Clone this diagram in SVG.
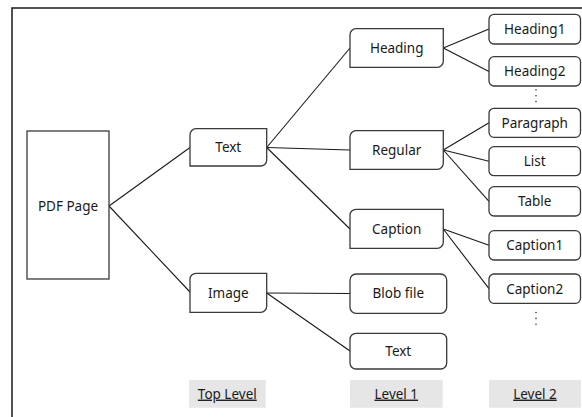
<svg xmlns="http://www.w3.org/2000/svg" width="582" height="417" viewBox="0 0 582 417">
  <style>
    .box { fill: #ffffff; stroke: #3a3a3a; stroke-width: 1.3; }
    .lbl { font-family: "Noto Sans", "Open Sans", sans-serif; font-size: 13.5px; fill: #1a1a1a; text-anchor: middle; }
    .lvl { fill: #e6e6e6; }
    .lvltxt { font-family: "Noto Sans", "Open Sans", sans-serif; font-size: 13.5px; fill: #1a1a1a; text-anchor: middle; text-decoration: underline; }
    .conn line { stroke: #1a1a1a; stroke-width: 1.1; }
    .dot { fill: #3a3a3a; }
  </style>
  <rect x="0" y="0" width="582" height="417" fill="#ffffff"/>
  <!-- outer frame -->
  <rect x="12" y="8" width="600" height="430" fill="none" stroke="#1a1a1a" stroke-width="1.5"/>

  <!-- connectors -->
  <g id="connectors" class="conn">
    <line x1="109" y1="206" x2="190" y2="147.5"/>
    <line x1="109" y1="206" x2="190" y2="292"/>
    <line x1="266.7" y1="147.5" x2="350" y2="48"/>
    <line x1="266.7" y1="147.5" x2="350" y2="150"/>
    <line x1="266.7" y1="147.5" x2="350" y2="229"/>
    <line x1="266.7" y1="293" x2="350" y2="293.5"/>
    <line x1="266.7" y1="293" x2="350" y2="351"/>
    <line x1="443.3" y1="48" x2="489" y2="29"/>
    <line x1="443.3" y1="48" x2="489" y2="71.5"/>
    <line x1="443.3" y1="150" x2="489" y2="122.8"/>
    <line x1="443.3" y1="150" x2="489" y2="161.2"/>
    <line x1="443.3" y1="150" x2="489" y2="201.3"/>
    <line x1="443.3" y1="229" x2="489" y2="245.3"/>
    <line x1="443.3" y1="229" x2="489" y2="288.7"/>
  </g>

  <!-- top level -->
  <g id="pdf-page">
    <rect class="box" x="27" y="131" width="82" height="148"/>
    <text class="lbl" x="68" y="210.8">PDF Page</text>
  </g>
  <g id="top-text">
    <path class="box" d="M190,134.7 A6,6 0 0 1 196,128.7 H266.7 V160 A6,6 0 0 1 260.7,166 H190 Z"/>
    <text class="lbl" x="228.3" y="152.1">Text</text>
  </g>
  <g id="top-image">
    <path class="box" d="M190,279.3 A6,6 0 0 1 196,273.3 H266.7 V306.3 A6,6 0 0 1 260.7,312.3 H190 Z"/>
    <text class="lbl" x="228.3" y="297.6">Image</text>
  </g>

  <!-- level 1 -->
  <g id="l1-heading">
    <path class="box" d="M350,34.7 A6,6 0 0 1 356,28.7 H443.3 V61.3 A6,6 0 0 1 437.3,67.3 H350 Z"/>
    <text class="lbl" x="396.7" y="52.8">Heading</text>
  </g>
  <g id="l1-regular">
    <path class="box" d="M350,136.7 A6,6 0 0 1 356,130.7 H443.3 V163.3 A6,6 0 0 1 437.3,169.3 H350 Z"/>
    <text class="lbl" x="396.7" y="154.8">Regular</text>
  </g>
  <g id="l1-caption">
    <path class="box" d="M350,215.3 A6,6 0 0 1 356,209.3 H443.3 V242.3 A6,6 0 0 1 437.3,248.3 H350 Z"/>
    <text class="lbl" x="396.7" y="233.6">Caption</text>
  </g>
  <g id="l1-blob">
    <rect class="box" x="350" y="274" width="96.7" height="39.3" rx="6"/>
    <text class="lbl" x="398.3" y="298.4">Blob file</text>
  </g>
  <g id="l1-text">
    <rect class="box" x="350" y="333.3" width="96.7" height="35.7" rx="6"/>
    <text class="lbl" x="398.3" y="355.9">Text</text>
  </g>

  <!-- level 2 -->
  <g id="l2-heading1">
    <rect class="box" x="489" y="14.3" width="91.5" height="29.7" rx="5"/>
    <text class="lbl" x="534.7" y="33.9">Heading1</text>
  </g>
  <g id="l2-heading2">
    <rect class="box" x="489" y="56.7" width="91.5" height="29.3" rx="5"/>
    <text class="lbl" x="534.7" y="76.1">Heading2</text>
  </g>
  <g id="l2-paragraph">
    <rect class="box" x="489" y="108.3" width="91.5" height="29" rx="5"/>
    <text class="lbl" x="534.7" y="127.6">Paragraph</text>
  </g>
  <g id="l2-list">
    <rect class="box" x="489" y="146.7" width="91.5" height="29" rx="5"/>
    <text class="lbl" x="534.7" y="166">List</text>
  </g>
  <g id="l2-table">
    <rect class="box" x="489" y="186.7" width="91.5" height="29.3" rx="5"/>
    <text class="lbl" x="534.7" y="206.1">Table</text>
  </g>
  <g id="l2-caption1">
    <rect class="box" x="489" y="230.7" width="91.5" height="29.3" rx="5"/>
    <text class="lbl" x="534.7" y="250.1">Caption1</text>
  </g>
  <g id="l2-caption2">
    <rect class="box" x="489" y="274" width="91.5" height="29.3" rx="5"/>
    <text class="lbl" x="534.7" y="293.5">Caption2</text>
  </g>

  <!-- ellipsis marks -->
  <g id="more-headings">
    <circle class="dot" cx="536" cy="90" r="0.8"/>
    <circle class="dot" cx="536" cy="95.8" r="0.8"/>
    <circle class="dot" cx="536" cy="101.6" r="0.8"/>
  </g>
  <g id="more-captions">
    <circle class="dot" cx="536" cy="312.5" r="0.8"/>
    <circle class="dot" cx="536" cy="318.4" r="0.8"/>
    <circle class="dot" cx="536" cy="324.3" r="0.8"/>
  </g>

  <!-- level captions -->
  <g id="label-top">
    <rect class="lvl" x="189" y="380" width="76.7" height="27.7"/>
    <text class="lvltxt" x="227.3" y="398.6">Top Level</text>
  </g>
  <g id="label-level1">
    <rect class="lvl" x="350" y="380" width="92.7" height="27.7"/>
    <text class="lvltxt" x="396.3" y="398.6">Level 1</text>
  </g>
  <g id="label-level2">
    <rect class="lvl" x="489" y="380" width="92" height="27.7"/>
    <text class="lvltxt" x="535" y="398.6">Level 2</text>
  </g>
</svg>
